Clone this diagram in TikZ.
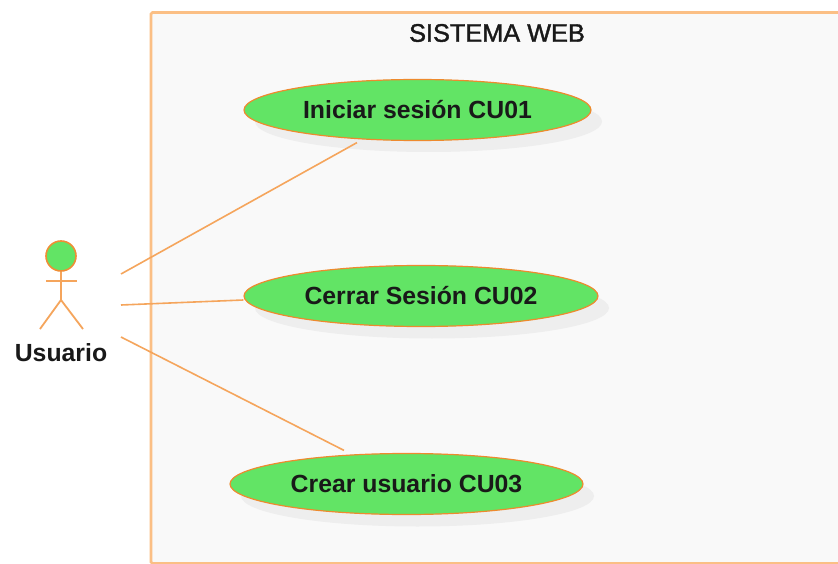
\documentclass[tikz,border=0pt]{standalone}
\usepackage{fontspec}
\setmainfont{Liberation Sans}
\newfontfamily\titlefont[FakeBold=1.5]{Liberation Sans}
\usetikzlibrary{shapes.geometric}
\definecolor{lineor}{HTML}{F5A55C}
\definecolor{edgeor}{HTML}{EE8A2E}
\definecolor{boxor}{HTML}{FBBF85}
\definecolor{ucgreen}{HTML}{62E465}
\definecolor{panel}{HTML}{F9F9F9}
\definecolor{shadowc}{HTML}{EEEEEE}
\tikzset{
  usecase/.style={ellipse,draw=edgeor,line width=1.2pt,fill=ucgreen,inner sep=0pt,minimum width=#1,minimum height=61pt,font=\fontsize{24.8}{28}\selectfont\bfseries,text=black!90},
  ucshadow/.style={ellipse,fill=shadowc,inner sep=0pt,minimum width=#1,minimum height=61pt},
  link/.style={draw=lineor,line width=1.6pt},
  stick/.style={draw=lineor,line width=1.8pt},
  lbl/.style={inner sep=0pt,text=black!90}
}
\begin{document}
\begin{tikzpicture}[x=1pt,y=-1pt]
\useasboundingbox (0,0) rectangle (838,564);
\fill[white] (0,0) rectangle (838,564);
\path[fill=panel,draw=boxor,line width=2.8pt,rounded corners=1.5pt] (151,563.5) -- (151,12.5) -- (845,12.5) -- (845,563.5) -- cycle;
\node[lbl,font=\titlefont\fontsize{25.3}{28}\selectfont] (title) at (497,33) {SISTEMA WEB};
\node[ucshadow=347pt] (s1) at (428.5,121.5) {};
\node[ucshadow=354pt] (s2) at (432,308) {};
\node[ucshadow=353pt] (s3) at (417.5,496) {};
\node[usecase=347pt] (u1) at (417.5,110) {\raisebox{1pt}{Iniciar sesión CU01}};
\node[usecase=354pt] (u2) at (421,296) {Cerrar Sesión CU02};
\node[usecase=353pt] (u3) at (406.5,484) {\raisebox{1.5pt}{Crear usuario CU03}};
% actor
\node[circle,draw=edgeor!85!lineor,line width=1.6pt,fill=ucgreen,inner sep=0pt,minimum size=30pt] (head) at (61,256) {};
\coordinate (hip) at (61,300);
\coordinate (armL) at (46,281);
\coordinate (armR) at (77,281);
\coordinate (footL) at (40,329);
\coordinate (footR) at (83,329);
\draw[stick] (head.south) -- (hip);
\draw[stick] (armL) -- (armR);
\draw[stick] (footL) -- (hip) -- (footR);
\node[lbl,font=\fontsize{24.8}{28}\selectfont\bfseries] (actor) at (61,353) {Usuario};
\coordinate (p1) at (121,274);
\coordinate (p2) at (121,305);
\coordinate (p3) at (121,337);
\draw[link] (p1) -- ([xshift=-60.5pt,yshift=-1.5pt]u1.south);
\draw[link] (p2) -- ([yshift=-4pt]u2.west);
\draw[link] (p3) -- ([xshift=-62.5pt,yshift=2.5pt]u3.north);
\end{tikzpicture}
\end{document}
